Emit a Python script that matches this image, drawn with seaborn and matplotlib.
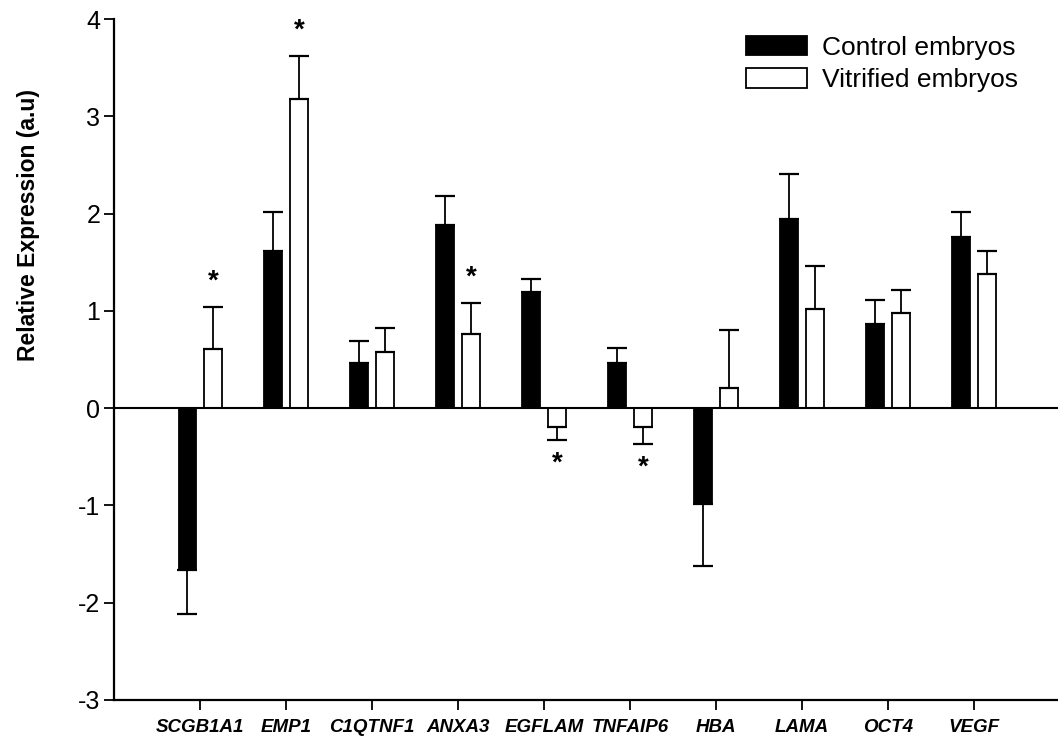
import numpy as np
import pandas as pd
import seaborn as sns
import matplotlib
import matplotlib.pyplot as plt
from matplotlib.patches import Patch

genes = ["SCGB1A1", "EMP1", "C1QTNF1", "ANXA3", "EGFLAM",
         "TNFAIP6", "HBA", "LAMA", "OCT4", "VEGF"]
control = [-1.66, 1.62, 0.46, 1.88, 1.19, 0.46, -0.99, 1.94, 0.86, 1.76]
control_err = [0.46, 0.40, 0.23, 0.30, 0.14, 0.16, 0.63, 0.47, 0.25, 0.26]
vitrified = [0.61, 3.18, 0.58, 0.76, -0.19, -0.19, 0.21, 1.02, 0.98, 1.38]
vitrified_err = [0.43, 0.44, 0.24, 0.32, 0.14, 0.18, 0.59, 0.44, 0.23, 0.24]
# vitrified vs control significant
significant = ["SCGB1A1", "EMP1", "ANXA3", "EGFLAM", "TNFAIP6"]

groups = ["Control embryos", "Vitrified embryos"]

data = pd.DataFrame({
    "gene": genes * 2,
    "group": [groups[0]] * len(genes) + [groups[1]] * len(genes),
    "value": control + vitrified,
    "err": control_err + vitrified_err,
})

sns.set_style("ticks")
plt.rcParams["font.family"] = ["Liberation Sans", "DejaVu Sans"]
plt.rcParams["axes.unicode_minus"] = False
for key in ["text.color", "axes.labelcolor", "xtick.color", "ytick.color",
            "axes.edgecolor"]:
    plt.rcParams[key] = "black"

fig = plt.figure(figsize=(10.58, 7.4), dpi=100)
ax = fig.add_axes([0.1078, 0.0541, 0.8922, 0.9202])

sns.barplot(data=data, x="gene", y="value", hue="group", order=genes,
            hue_order=groups, palette={groups[0]: "black", groups[1]: "white"},
            width=0.6, gap=0.33, edgecolor="black", linewidth=1.3,
            errorbar=None, legend=False, ax=ax)

# one-sided error bars, same direction as the bar
offsets = {groups[0]: -0.15, groups[1]: 0.15}
for grp, sub in data.groupby("group"):
    sub = sub.set_index("gene").loc[genes]
    xs = np.arange(len(genes)) + offsets[grp]
    vals = sub["value"].to_numpy()
    errs = sub["err"].to_numpy()
    lower = np.where(vals < 0, errs, 0)
    upper = np.where(vals >= 0, errs, 0)
    ax.errorbar(xs, vals, yerr=[lower, upper], fmt="none", ecolor="black",
                elinewidth=1.3, capsize=7.5, capthick=1.6, zorder=1)

# asterisks
vit = data[data["group"] == groups[1]].set_index("gene")
for g in significant:
    i = genes.index(g)
    v = vit.loc[g, "value"]
    e = vit.loc[g, "err"]
    yc = v + e + 0.36 if v >= 0 else v - e - 0.14
    ax.annotate("*", (i + 0.15, yc), xytext=(0, -0.6 * 20),
                textcoords="offset points", ha="center", va="baseline",
                fontsize=20, fontweight="bold")

ax.axhline(0, color="black", linewidth=1.5, zorder=3)

ax.set_ylim(-3, 4)
ax.set_xlim(-1, 9.977)
ax.set_yticks(range(-3, 5))
ax.tick_params(axis="y", labelsize=18, length=7, width=1.3, pad=3)
ax.tick_params(axis="x", labelsize=13.5, length=7, width=1.3, pad=7)
for lab in ax.get_xticklabels():
    lab.set_fontweight("bold")
    lab.set_fontstyle("italic")

ax.set_xlabel("")
ax.set_ylabel("Relative Expression (a.u)", fontsize=16.5, fontweight="bold")
ax.yaxis.set_label_coords(-0.078, 0.697)
sns.despine(ax=ax)
ax.spines["left"].set_linewidth(1.6)
ax.spines["bottom"].set_linewidth(1.6)

handles = [Patch(facecolor="black", edgecolor="black", linewidth=1.3),
           Patch(facecolor="white", edgecolor="black", linewidth=1.3)]
leg = fig.legend(handles, groups, loc="upper left",
                 bbox_to_anchor=(0.6955, 0.966), frameon=False,
                 fontsize=19, handlelength=2.3, handleheight=0.75,
                 handletextpad=0.55, labelspacing=0.32, borderaxespad=0)

fig.savefig("out.png", dpi=100)
